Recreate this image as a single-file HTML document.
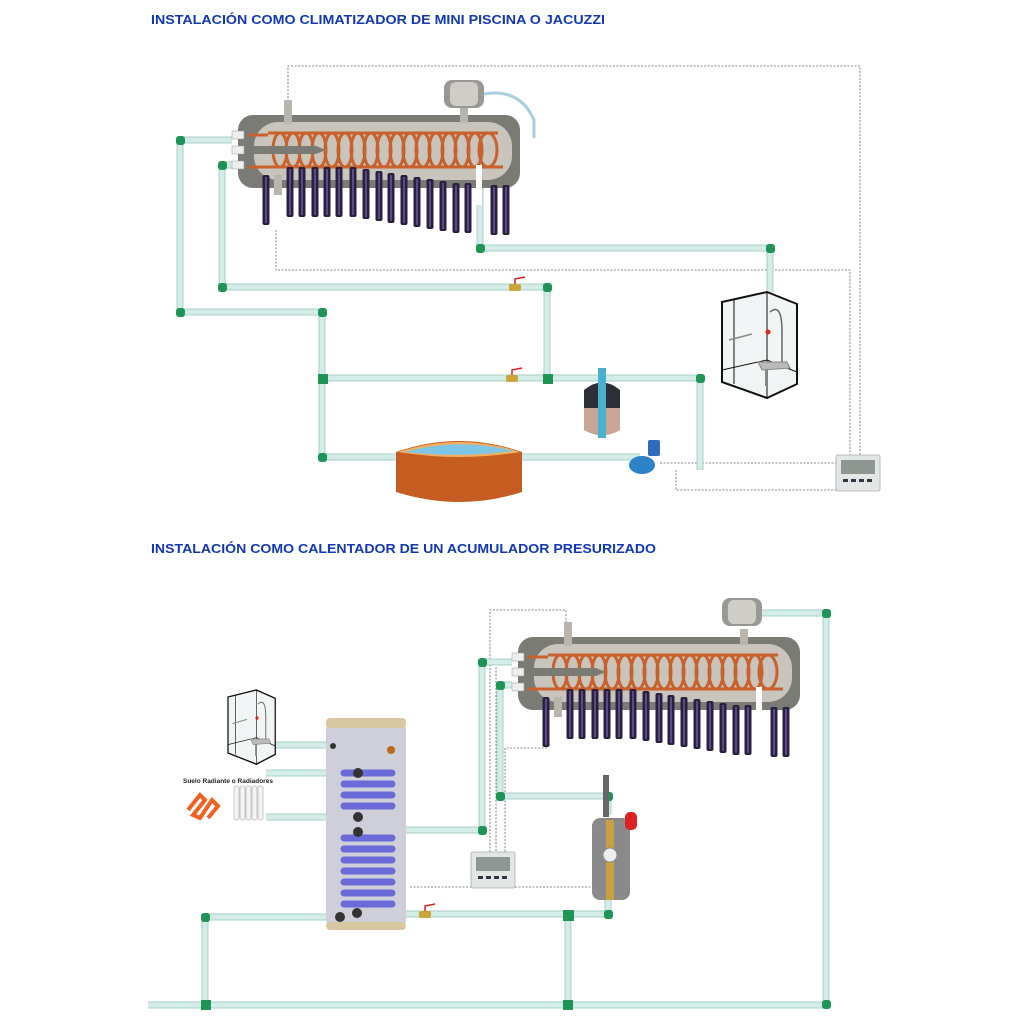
<!DOCTYPE html>
<html><head><meta charset="utf-8"><style>html,body{margin:0;padding:0;background:#fff}svg{display:block}</style></head>
<body>
<svg width="1024" height="1024" viewBox="0 0 1024 1024" xmlns="http://www.w3.org/2000/svg" font-family="Liberation Sans, sans-serif">
<defs>
<g id="tube"><rect x="-3.5" y="0" width="7" height="50" rx="2" fill="#2a1f3d"/><rect x="-1" y="2" width="2" height="46" fill="#5a4a8a"/></g>
<g id="coll">
  <rect x="0" y="0" width="282" height="73" rx="15" fill="#7b7b76"/>
  <rect x="16" y="7" width="258" height="58" rx="24" fill="#c9c5bd"/>
  <rect x="46" y="-15" width="8" height="24" fill="#b9b5ad"/>
  <rect x="222" y="-8" width="8" height="16" fill="#b9b5ad"/>
  <g fill="none" stroke="#c8612b" stroke-width="3">
    <path d="M10 20 H30 M10 52 H265 M30 18 H260"/>
    <ellipse cx="42" cy="35" rx="7" ry="17"/><ellipse cx="55" cy="35" rx="7" ry="17"/><ellipse cx="68" cy="35" rx="7" ry="17"/><ellipse cx="81" cy="35" rx="7" ry="17"/><ellipse cx="94" cy="35" rx="7" ry="17"/><ellipse cx="107" cy="35" rx="7" ry="17"/><ellipse cx="120" cy="35" rx="7" ry="17"/><ellipse cx="133" cy="35" rx="7" ry="17"/><ellipse cx="146" cy="35" rx="7" ry="17"/><ellipse cx="159" cy="35" rx="7" ry="17"/><ellipse cx="172" cy="35" rx="7" ry="17"/><ellipse cx="185" cy="35" rx="7" ry="17"/><ellipse cx="198" cy="35" rx="7" ry="17"/><ellipse cx="211" cy="35" rx="7" ry="17"/><ellipse cx="224" cy="35" rx="7" ry="17"/><ellipse cx="237" cy="35" rx="7" ry="17"/><ellipse cx="250" cy="35" rx="9" ry="17"/>
  </g>
  <path d="M6 31 H78 L88 35 L78 39 H6 Z" fill="#7b7b76"/>
  <rect x="-6" y="16" width="12" height="8" fill="#eee" stroke="#999" stroke-width=".5"/>
  <rect x="-6" y="31" width="12" height="8" fill="#eee" stroke="#999" stroke-width=".5"/>
  <rect x="-6" y="46" width="12" height="8" fill="#eee" stroke="#999" stroke-width=".5"/>
  <rect x="36" y="60" width="8" height="20" fill="#b9b5ad"/>
  <rect x="238" y="50" width="6" height="40" fill="#fff"/>
  <use href="#tube" x="28" y="60"/><use href="#tube" x="52" y="52"/>
  <use href="#tube" x="64" y="52"/><use href="#tube" x="77" y="52"/><use href="#tube" x="89" y="52"/><use href="#tube" x="101" y="52"/><use href="#tube" x="115" y="52"/><use href="#tube" x="128" y="54"/><use href="#tube" x="141" y="56"/><use href="#tube" x="153" y="58"/><use href="#tube" x="166" y="60"/><use href="#tube" x="179" y="62"/><use href="#tube" x="192" y="64"/><use href="#tube" x="205" y="66"/><use href="#tube" x="218" y="68"/><use href="#tube" x="230" y="68"/><use href="#tube" x="256" y="70"/><use href="#tube" x="268" y="70"/>
</g>
<g id="ctrl"><rect x="0" y="0" width="44" height="36" rx="2" fill="#e2e6e4" stroke="#aab" stroke-width=".8"/><rect x="5" y="5" width="34" height="14" fill="#8e9692"/><rect x="7" y="24" width="5" height="3" fill="#334"/><rect x="15" y="24" width="5" height="3" fill="#334"/><rect x="23" y="24" width="5" height="3" fill="#334"/><rect x="31" y="24" width="5" height="3" fill="#334"/></g>
<g id="valve"><rect x="-6" y="-3" width="12" height="7" rx="2" fill="#c9a63a"/><path d="M0 -3 V-8 L10 -10" stroke="#d22" stroke-width="1.5" fill="none"/></g>
<g id="shower" fill="none" stroke="#111" stroke-width="2">
  <path d="M0 10 L45 0 L75 12 L75 92 L45 106 L0 90 Z" fill="#f2f5f6"/>
  <path d="M45 0 V106 M12 8 V92" stroke-width="1"/>
  <path d="M0 78 L45 68 L75 80" stroke-width="1"/>
  <path d="M48 20 Q60 10 60 40 V70" stroke="#666" stroke-width="1.5"/>
  <path d="M36 70 L65 70 L68 76 L40 78 Z" fill="#bbb" stroke="#888" stroke-width="1"/>
  <path d="M44 78 V94" stroke="#888" stroke-width="2"/>
  <circle cx="46" cy="40" r="2.5" fill="#d22" stroke="none"/>
  <path d="M7 48 L30 42" stroke="#888" stroke-width="1.5"/>
</g>
<g id="pipesTop">
<path d="M232 140 H180 V312 H322 V457 H400"/>
<path d="M232 165 H222 V287 H547 V378"/>
<path d="M322 378 H700 V470"/>
<path d="M480 180 V248 H770 V292"/>
<path d="M522 457 H640"/>
</g>
<g id="pipesBot">
<path d="M512 662 H482 V830 H360"/>
<path d="M512 685 H500 V796 H608 V815"/>
<path d="M608 900 V914 H355"/>
<path d="M568 914 V1005"/>
<path d="M762 613 H826 V1005 H148"/>
<path d="M340 917 H205 V1005"/>
<path d="M275 745 H335"/>
<path d="M266 773 H355"/><path d="M266 817 H355"/>
</g>
</defs>
<text x="151" y="24" font-size="13" font-weight="bold" fill="#1238b8" textLength="454" lengthAdjust="spacingAndGlyphs">INSTALACIÓN COMO CLIMATIZADOR DE MINI PISCINA O JACUZZI</text>
<text x="151" y="553" font-size="13" font-weight="bold" fill="#1238b8" textLength="505" lengthAdjust="spacingAndGlyphs">INSTALACIÓN COMO CALENTADOR DE UN ACUMULADOR PRESURIZADO</text>

<g fill="none" stroke="#666" stroke-width="0.8" stroke-dasharray="2,1.5">
<path d="M288 105 V66 H860 V455"/>
<path d="M276 230 V270 H850 V455"/>
<path d="M676 470 V490 H836"/>
<path d="M660 463 H836"/>
</g>
<g fill="none" stroke-linejoin="round">
<use href="#pipesTop" stroke="#a9cfc9" stroke-width="7"/>
<use href="#pipesTop" stroke="#d3ece8" stroke-width="5"/>
</g>
<g fill="#1f9457">
<rect x="176" y="136" width="9" height="9" rx="3"/><rect x="176" y="308" width="9" height="9" rx="3"/><rect x="318" y="308" width="9" height="9" rx="3"/><rect x="318" y="374" width="10" height="10"/><rect x="318" y="453" width="9" height="9" rx="3"/><rect x="218" y="161" width="9" height="9" rx="3"/><rect x="218" y="283" width="9" height="9" rx="3"/><rect x="543" y="283" width="9" height="9" rx="3"/><rect x="543" y="374" width="10" height="10"/><rect x="696" y="374" width="9" height="9" rx="3"/><rect x="476" y="244" width="9" height="9" rx="3"/><rect x="766" y="244" width="9" height="9" rx="3"/>
</g>
<use href="#valve" x="515" y="287"/><use href="#valve" x="512" y="378"/>
<use href="#coll" x="238" y="115"/>
<rect x="444" y="80" width="40" height="28" rx="8" fill="#9a9893"/><rect x="450" y="82" width="28" height="24" rx="6" fill="#cfcdc8"/>
<path d="M484 94 Q520 88 534 120 V138" fill="none" stroke="#a9cfe0" stroke-width="3"/>
<path d="M396 452 Q460 430 522 452 V492 Q460 512 396 492 Z" fill="#c55c22"/>
<path d="M398 452 Q460 432 520 452 Q460 462 398 452 Z" fill="#f0b060"/>
<path d="M404 452 Q460 437 514 451 Q460 458 404 452 Z" fill="#7fc6e6"/>
<path d="M584 390 Q602 375 620 390 V430 Q602 440 584 430 Z" fill="#2c2f35"/>
<path d="M584 408 H620 V430 Q602 440 584 430 Z" fill="#c9a595"/>
<rect x="598" y="368" width="8" height="70" fill="#4ab0d0"/>
<rect x="648" y="440" width="12" height="16" rx="2" fill="#2f6cc0"/>
<ellipse cx="642" cy="465" rx="13" ry="9" fill="#2e82c8"/>
<use href="#shower" x="722" y="292"/>
<use href="#ctrl" x="836" y="455"/>

<g fill="none" stroke="#666" stroke-width="0.8" stroke-dasharray="2,1.5">
<path d="M566 630 V610 H490 V852"/>
<path d="M510 660 H496 V852"/>
<path d="M546 740 V748 H505 V852"/>
<path d="M410 887 H471"/><path d="M515 887 H592"/>
</g>
<g fill="none" stroke-linejoin="round">
<use href="#pipesBot" stroke="#a9cfc9" stroke-width="7"/>
<use href="#pipesBot" stroke="#d3ece8" stroke-width="5"/>
</g>
<g fill="#1f9457">
<rect x="478" y="658" width="9" height="9" rx="3"/><rect x="478" y="826" width="9" height="9" rx="3"/><rect x="496" y="681" width="9" height="9" rx="3"/><rect x="496" y="792" width="9" height="9" rx="3"/><rect x="604" y="792" width="9" height="9" rx="3"/><rect x="604" y="910" width="9" height="9" rx="3"/><rect x="563" y="910" width="11" height="11"/><rect x="822" y="609" width="9" height="9" rx="3"/><rect x="201" y="913" width="9" height="9" rx="3"/><rect x="201" y="1000" width="10" height="10"/><rect x="563" y="1000" width="10" height="10"/><rect x="822" y="1000" width="9" height="9" rx="3"/>
</g>
<use href="#coll" x="518" y="637"/>
<rect x="722" y="598" width="40" height="28" rx="8" fill="#9a9893"/><rect x="728" y="600" width="28" height="24" rx="6" fill="#cfcdc8"/>
<rect x="326" y="720" width="80" height="210" rx="10" fill="#cfcfd9"/>
<rect x="326" y="718" width="80" height="10" rx="4" fill="#d8c7a0"/>
<rect x="326" y="922" width="80" height="8" rx="4" fill="#d8c7a0"/>
<g fill="none" stroke="#6a6ad8" stroke-width="7" stroke-linecap="round">
<path d="M344 773 H392 M344 784 H392 M344 795 H392 M344 806 H392"/>
<path d="M344 838 H392 M344 849 H392 M344 860 H392 M344 871 H392 M344 882 H392 M344 893 H392 M344 904 H392"/>
</g>
<circle cx="358" cy="773" r="5" fill="#333"/><circle cx="358" cy="817" r="5" fill="#333"/><circle cx="358" cy="832" r="5" fill="#333"/><circle cx="357" cy="913" r="5" fill="#333"/><circle cx="340" cy="917" r="5" fill="#333"/><circle cx="333" cy="746" r="3" fill="#333"/><circle cx="391" cy="750" r="4" fill="#b86a20"/>
<use href="#valve" x="425" y="914"/>
<rect x="592" y="818" width="38" height="82" rx="8" fill="#8a8a8a"/>
<rect x="606" y="820" width="8" height="80" fill="#c9a040"/>
<circle cx="610" cy="855" r="7" fill="#eee" stroke="#888"/>
<rect x="603" y="775" width="6" height="42" fill="#666"/>
<rect x="625" y="812" width="12" height="18" rx="5" fill="#d22"/>
<use href="#ctrl" x="471" y="852"/>
<g transform="translate(228,690) scale(0.63,0.7)"><use href="#shower"/></g>
<text x="183" y="783" font-size="6.5" font-weight="bold" fill="#222">Suelo Radiante o Radiadores</text>
<path d="M188 810 L200 795 L205 800 L193 815 L200 818 L212 800 L218 806 L208 818" fill="none" stroke="#f06020" stroke-width="4"/>
<g fill="#f4f4f4" stroke="#bbb" stroke-width=".8">
<rect x="234" y="786" width="5" height="34" rx="2"/><rect x="240" y="786" width="5" height="34" rx="2"/><rect x="246" y="786" width="5" height="34" rx="2"/><rect x="252" y="786" width="5" height="34" rx="2"/><rect x="258" y="786" width="5" height="34" rx="2"/>
</g>
</svg>
</body></html>
